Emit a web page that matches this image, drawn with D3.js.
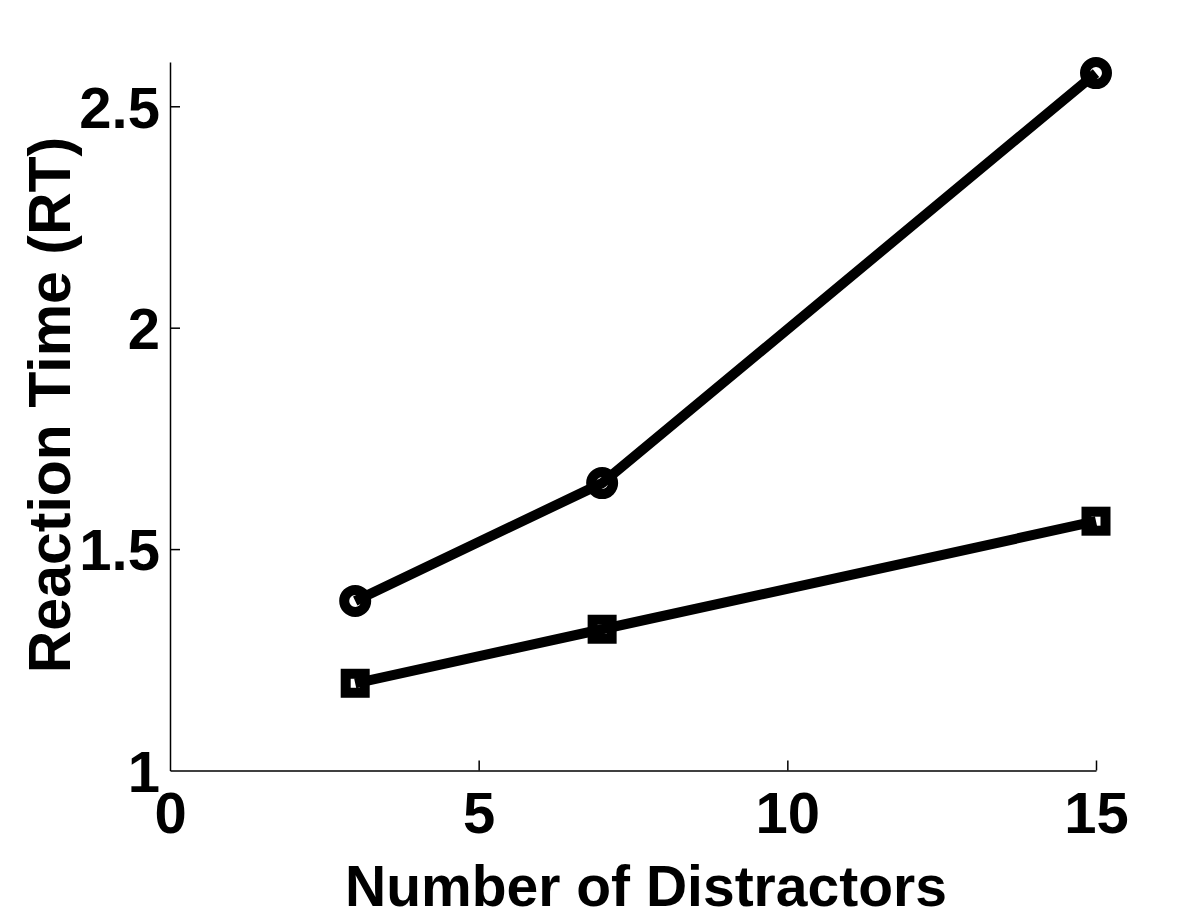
<!DOCTYPE html>
<html><head><meta charset="utf-8">
<script src="https://cdn.jsdelivr.net/npm/d3@7"></script>
<style>body{margin:0;background:#fff}</style>
</head><body>
<svg id="c" width="1200" height="917"></svg>
<script>
const distractors = [3, 7, 15];
const circleSeries = [1.383, 1.649, 2.575];
const squareSeries = [1.197, 1.319, 1.563];
const xTicks = [0, 5, 10, 15];
const yTicks = [1, 1.5, 2, 2.5];
const xTitle = "Number of Distractors";
const yTitle = "Reaction Time (RT)";

const svg = d3.select("#c");
const font = "'Liberation Sans', Arial, Helvetica, sans-serif";
const x = d3.scaleLinear().domain([0, 15]).range([170, 1096]);
const y = d3.scaleLinear().domain([1, 2.6]).range([770.5, 62]);

const xAxis = d3.axisBottom(x).tickValues(xTicks).tickFormat(d3.format("d")).tickSizeInner(-10).tickSizeOuter(0).tickPadding(20);
const gx = svg.append("g").attr("transform", `translate(0,${y(1)})`).call(xAxis);
const yAxis = d3.axisLeft(y).tickValues(yTicks).tickFormat(d => d3.format("")(d)).tickSizeInner(-10).tickSizeOuter(0).tickPadding(20);
const gy = svg.append("g").attr("transform", `translate(${x(0)},0)`).call(yAxis);

[gx, gy].forEach(g => {
  g.select(".domain").attr("stroke", "#000").attr("stroke-width", 1.5);
  g.selectAll(".tick line").attr("stroke", "#000").attr("stroke-width", 1.5);
  g.selectAll(".tick text").attr("fill", "#000").attr("font-family", font).attr("font-weight", "bold").attr("font-size", 58);
});
gx.selectAll(".tick text").attr("dy", "0.71em").attr("y", 21);
gy.selectAll(".tick text").attr("x", -10).attr("dy", "0.36em");
gx.selectAll(".tick").filter(d => d === 0).select("line").remove();
gy.selectAll(".tick").filter(d => d === 1).select("line").remove();

const line = d3.line().x((d, i) => x(distractors[i])).y(d => y(d));
[circleSeries, squareSeries].forEach(s => {
  svg.append("path").datum(s).attr("d", line).attr("fill", "none")
    .attr("stroke", "#000").attr("stroke-width", 10).attr("stroke-linejoin", "round");
});
svg.selectAll("circle.m").data(circleSeries).join("circle").attr("class", "m")
  .attr("cx", (d, i) => x(distractors[i])).attr("cy", d => y(d)).attr("r", 11)
  .attr("fill", "none").attr("stroke", "#000").attr("stroke-width", 10);
svg.selectAll("rect.m").data(squareSeries).join("rect").attr("class", "m")
  .attr("x", (d, i) => x(distractors[i]) - 9.5).attr("y", d => y(d) - 9.5)
  .attr("width", 19).attr("height", 19)
  .attr("fill", "none").attr("stroke", "#000").attr("stroke-width", 10);

svg.append("text").attr("x", 646).attr("y", 906).attr("text-anchor", "middle")
  .attr("font-family", font).attr("font-weight", "bold").attr("font-size", 57).attr("fill", "#000").text(xTitle);
svg.append("text").attr("transform", "translate(70,405) rotate(-90)").attr("text-anchor", "middle")
  .attr("font-family", font).attr("font-weight", "bold").attr("font-size", 59).attr("fill", "#000").text(yTitle);
</script>
</body></html>
